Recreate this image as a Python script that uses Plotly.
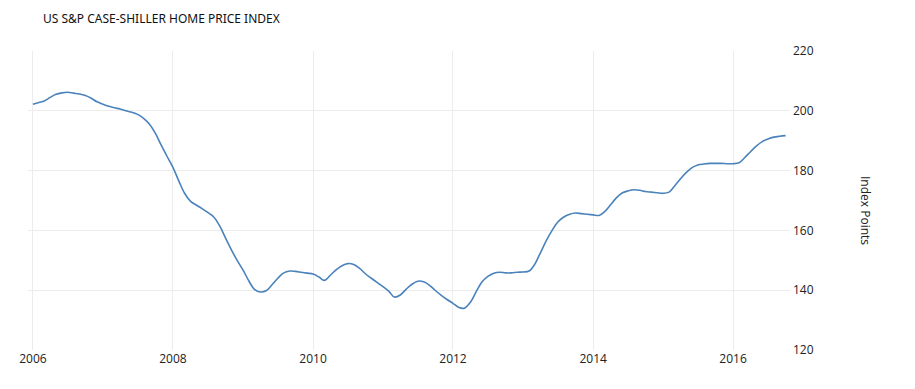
import plotly.graph_objects as go
import pandas as pd

title_text = "US S&P CASE-SHILLER HOME PRICE INDEX"
y_title = "Index Points"

dates = pd.date_range("2006-01-01", "2016-10-01", freq="MS")

values = [
    # 2006
    202.2, 202.8, 203.3, 204.5, 205.5, 206.0, 206.2, 205.9, 205.6, 205.1, 204.2, 203.0,
    # 2007
    202.2, 201.5, 201.0, 200.6, 200.0, 199.5, 198.8, 197.5, 195.5, 192.5, 188.5, 184.8,
    # 2008
    181.1, 176.5, 172.5, 169.8, 168.5, 167.3, 166.0, 164.5, 161.5, 157.5, 153.5, 150.0,
    # 2009
    146.7, 143.0, 140.3, 139.4, 139.8, 141.8, 144.0, 145.8, 146.4, 146.3, 146.0, 145.7,
    # 2010
    145.4, 144.4, 143.3, 145.0, 146.8, 148.2, 148.9, 148.6, 147.3, 145.5, 144.0, 142.6,
    # 2011
    141.2, 139.6, 137.7, 138.4, 140.3, 142.0, 143.0, 142.8, 141.6, 139.9, 138.3, 136.9,
    # 2012
    135.6, 134.2, 134.0, 136.0, 139.5, 142.8, 144.6, 145.7, 146.0, 145.8, 145.8, 146.0,
    # 2013
    146.1, 146.4, 148.5, 152.5, 156.5, 160.0, 162.8, 164.5, 165.4, 165.8, 165.6, 165.4,
    # 2014
    165.2, 165.0, 166.2, 168.5, 170.8, 172.5, 173.2, 173.6, 173.4, 173.0, 172.8, 172.6,
    # 2015
    172.4, 172.8, 174.8, 177.2, 179.3, 181.0, 181.9, 182.2, 182.4, 182.4, 182.4, 182.3,
    # 2016
    182.3, 182.6, 184.3, 186.3, 188.2, 189.7, 190.6, 191.2, 191.5, 191.7,
]

y_ticks = [120, 140, 160, 180, 200, 220]

fig = go.Figure()
fig.add_trace(go.Scatter(
    x=dates, y=values, mode="lines",
    line=dict(color="#4a82bc", width=1.6, shape="spline", smoothing=1.0),
    hoverinfo="skip", showlegend=False,
))

fig.update_layout(
    width=915, height=389,
    margin=dict(l=28, r=125, t=51, b=39),
    paper_bgcolor="white", plot_bgcolor="white",
    font=dict(family="Open Sans, Noto Sans, sans-serif", size=12, color="#222"),
    title=dict(
        text=title_text, xref="container", yref="container",
        x=43 / 915, xanchor="left", y=1 - 19 / 389, yanchor="middle",
        font=dict(family="Noto Sans, sans-serif", size=12, color="#111"),
    ),
    xaxis=dict(
        type="date",
        range=["2005-12-06", "2016-10-24"],
        tick0="2006-01-01", dtick="M24", tickformat="%Y",
        showgrid=True, gridcolor="#ececec", gridwidth=1,
        zeroline=False, showline=False, ticks="",
        tickfont=dict(size=12, color="#222"),
    ),
    yaxis=dict(
        side="right", range=[120, 220], tickvals=y_ticks,
        showgrid=True, gridcolor="#ececec", gridwidth=1,
        zeroline=False, showline=False, ticks="",
        tickfont=dict(size=12, color="#222"),
        ticklabelstandoff=2,
    ),
    annotations=[dict(
        text=y_title, xref="paper", yref="paper",
        x=(866 - 28) / (790 - 28), y=(350 - 210) / 299,
        xanchor="center", yanchor="middle", textangle=90,
        showarrow=False, font=dict(size=12, color="#222"),
    )],
)

fig.write_html("out.html")
